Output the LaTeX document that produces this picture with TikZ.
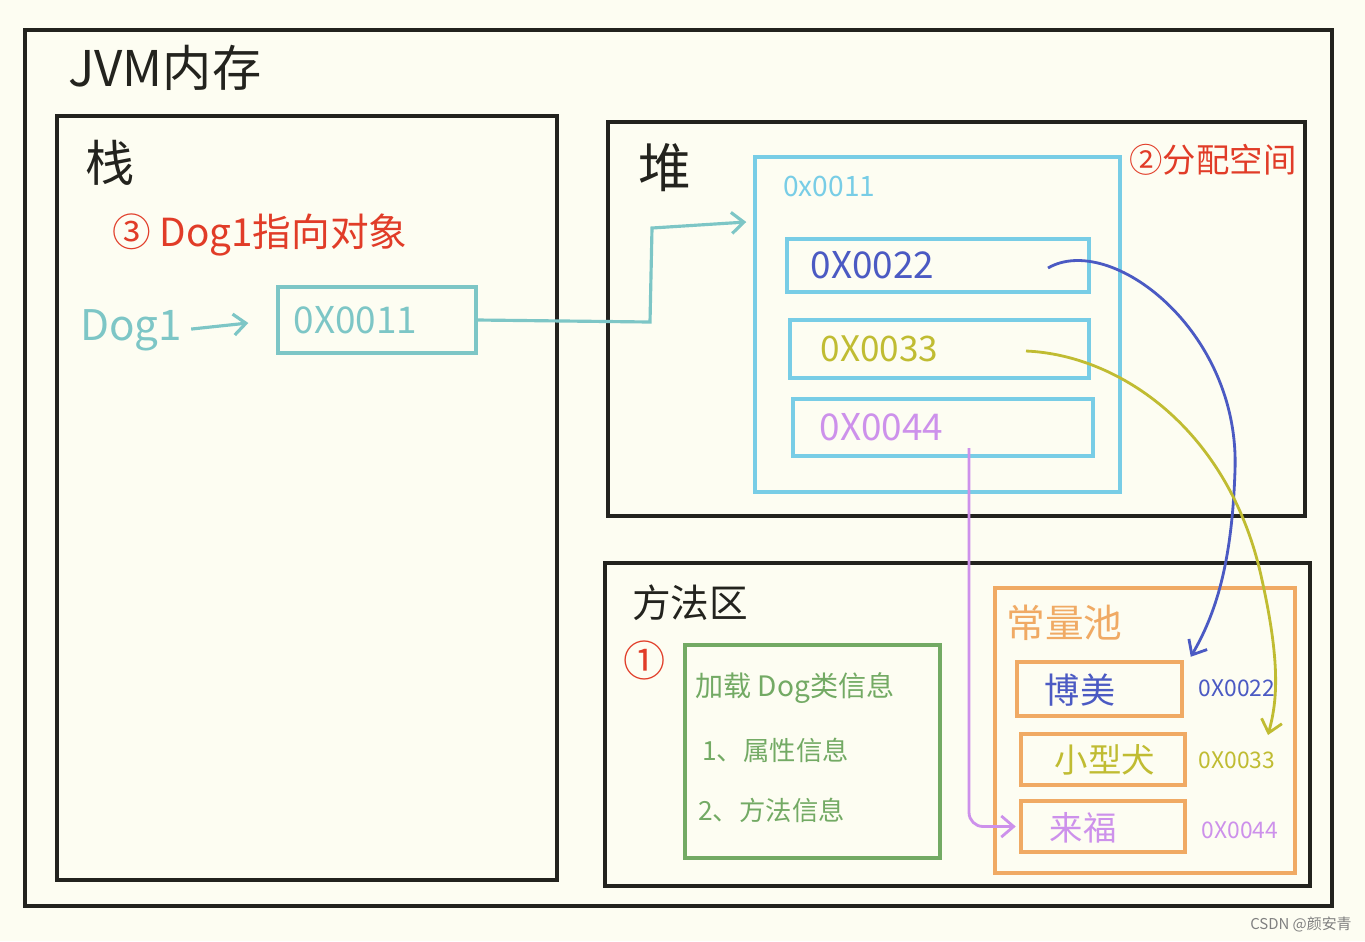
\documentclass[tikz,border=0pt]{standalone}
\usepackage{fontspec}
\setmainfont{Noto Sans CJK SC}
\usetikzlibrary{arrows.meta,positioning,calc}
\definecolor{paper}{RGB}{253,253,242}
\definecolor{frame}{RGB}{35,35,30}
\definecolor{note}{RGB}{225,60,40}
\definecolor{refc}{RGB}{125,198,198}
\definecolor{heapc}{RGB}{120,205,230}
\definecolor{bluec}{RGB}{75,90,195}
\definecolor{olivec}{RGB}{192,188,50}
\definecolor{violetc}{RGB}{205,145,235}
\definecolor{greenc}{RGB}{115,170,100}
\definecolor{poolc}{RGB}{240,170,100}

\begin{document}
\begin{tikzpicture}[x=0.02cm,y=-0.02cm,
  area/.style={draw=frame,line width=2.6pt,inner sep=0pt},
  box/.style={draw,line width=2pt,inner sep=0pt},
  hand/.style={inner sep=0pt,font=\fontsize{#1}{#1}\selectfont},
  tip/.style={-{Straight Barb[length=7pt,width=12pt]}}]
\fill [paper] (0,0) rectangle (1365,941);
\useasboundingbox (0,0) rectangle (1365,941);

\node [area,minimum width=26.14cm,minimum height=17.52cm] (jvm) at (678.5,468) {};
\node [hand=28,anchor=west,frame] (jvmtitle) at (68,68) {JVM内存};

% stack
\node [area,minimum width=10cm,minimum height=15.28cm] (stack) at (307,498) {};
\node [hand=28,frame] (stacktitle) at (110,163) {栈};
\node [hand=22,anchor=west,note] (step3) at (112,235) {③ Dog1指向对象};
\node [hand=24,anchor=west,refc] (dog) at (80,330) {Dog1};
\node [box,draw=refc,minimum width=3.96cm,minimum height=1.32cm] (ref) at (377,320) {};
\node [hand=21,refc,anchor=west] (reftext) at ([xshift=0.34cm]ref.west) {0X0011};

% heap
\node [area,minimum width=13.94cm,minimum height=7.88cm] (heap) at (956.5,319) {};
\node [hand=30,frame] (heaptitle) at (665,168) {堆};
\node [hand=19,note] (step2) at (1213,160) {②分配空间};
\node [box,draw=heapc,minimum width=7.3cm,minimum height=6.7cm] (obj) at (937.5,324.5) {};
\node [hand=16,heapc,anchor=west] (objtext) at (783,186) {0x0011};
\node [box,draw=heapc,minimum width=6.04cm,minimum height=1.06cm] (f22) at (938,265.5) {};
\node [box,draw=heapc,minimum width=5.98cm,minimum height=1.16cm] (f33) at (939.5,349) {};
\node [box,draw=heapc,minimum width=6cm,minimum height=1.14cm] (f44) at (943,427.5) {};
\node [hand=21,bluec,anchor=west] (f22text) at ([xshift=0.5cm]f22.west) {0X0022};
\node [hand=20,olivec,anchor=west] (f33text) at ([xshift=0.64cm]f33.west) {0X0033};
\node [hand=21,violetc,anchor=west] (f44text) at ([xshift=0.56cm]f44.west) {0X0044};

% method area
\node [area,minimum width=14.1cm,minimum height=6.46cm] (method) at (957.5,724.5) {};
\node [hand=22,frame] (methodtitle) at (690,603) {方法区};
\node [hand=24,note] (step1) at (645,660) {①};
\node [box,draw=greenc,minimum width=5.1cm,minimum height=4.26cm] (cls) at (812.5,751.5) {};
\node [hand=16,greenc,anchor=west] (cls1) at (695,688) {加载 Dog类信息};
\node [hand=15,greenc,anchor=west] (cls2) at (702,750) {1、属性信息};
\node [hand=15,greenc,anchor=west] (cls3) at (698,810) {2、方法信息};

\node [box,draw=poolc,minimum width=6cm,minimum height=5.7cm] (pool) at (1145,730.5) {};
\node [hand=22,poolc,anchor=west] (pooltitle) at (1006,623) {常量池};
\node [box,draw=poolc,minimum width=3.3cm,minimum height=1.08cm] (c22) at (1099.5,689) {};
\node [box,draw=poolc,minimum width=3.28cm,minimum height=1.02cm] (c33) at (1103,759.5) {};
\node [box,draw=poolc,minimum width=3.28cm,minimum height=1.02cm] (c44) at (1103,826.5) {};
\node [hand=20,bluec] (c22text) at (1080,690) {博美};
\node [hand=19,olivec] (c33text) at (1105,760) {小型犬};
\node [hand=19,violetc] (c44text) at (1083,828) {来福};
\node [hand=13,bluec] (a22) at (1237,688) {0X0022};
\node [hand=13,olivec] (a33) at (1237,760) {0X0033};
\node [hand=13,violetc] (a44) at (1240,830) {0X0044};

\node [hand=8.5,gray,anchor=east] (mark) at (1352,924) {CSDN @颜安青};

% pointers
\coordinate (s22) at (1048,268);
\coordinate (s33) at (1026,351);
\coordinate (s44) at (969,448);
\coordinate (e33) at (1268,735);
\draw [refc,line width=1.8pt,tip,shorten <=5pt,shorten >=16pt] (dog.east) -- (ref.west);
\draw [refc,line width=1.8pt,tip] (ref.east) -- (650,322) -- (652,228) -- ([xshift=-4pt]obj.west |- 0,222);
\draw [bluec,line width=1.6pt,tip] (s22) .. controls (1110,232) and (1240,330) .. (1235,470)
  .. controls (1232,565) and (1215,615) .. ([xshift=4pt,yshift=2pt]c22.north east);
\draw [olivec,line width=1.6pt,tip] (s33) .. controls (1120,355) and (1230,430) .. (1262,580)
  .. controls (1282,670) and (1276,705) .. (e33);
\draw [violetc,line width=1.6pt,tip,rounded corners=8pt] (s44) |- ([xshift=-2pt]c44.west);
\end{tikzpicture}
\end{document}
